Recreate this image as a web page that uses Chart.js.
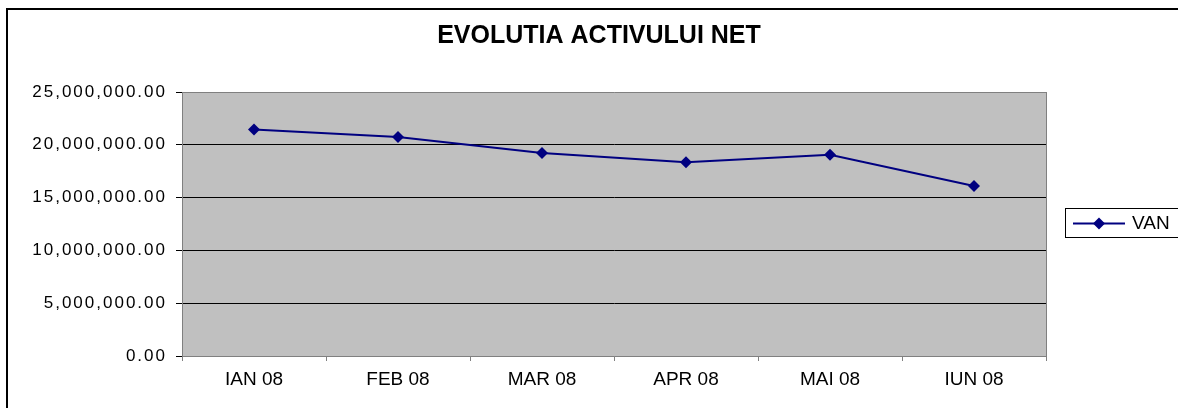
<!DOCTYPE html>
<html>
<head>
<meta charset="utf-8">
<script src="https://cdn.jsdelivr.net/npm/chart.js@4/dist/chart.umd.min.js"></script>
<style>
html,body{margin:0;padding:0;background:#fff;}
canvas{display:block;}
</style>
</head>
<body>
<canvas id="c" width="1178" height="408"></canvas>
<script>
const chartTitle = 'EVOLUTIA ACTIVULUI NET';
const seriesName = 'VAN';
const categories = ['IAN 08', 'FEB 08', 'MAR 08', 'APR 08', 'MAI 08', 'IUN 08'];
const vanValues = [21450000, 20740000, 19220000, 18340000, 19060000, 16100000];
const yMin = 0;
const yMax = 25000000;
const yStep = 5000000;

const NAVY = '#000080';
const FONT = '"Liberation Sans", Arial, sans-serif';

const decorPlugin = {
  id: 'decor',
  beforeDraw(chart) {
    const ctx = chart.ctx;
    const a = chart.chartArea;
    ctx.save();
    ctx.fillStyle = '#ffffff';
    ctx.fillRect(0, 0, chart.width, chart.height);
    ctx.fillStyle = '#C0C0C0';
    ctx.fillRect(a.left, a.top, a.right - a.left, a.bottom - a.top);
    ctx.restore();
  },
  beforeDatasetsDraw(chart) {
    const ctx = chart.ctx;
    const a = chart.chartArea;
    ctx.save();
    ctx.strokeStyle = '#808080';
    ctx.lineWidth = 1;
    ctx.beginPath();
    ctx.moveTo(Math.round(a.right) + 0.5, a.top);
    ctx.lineTo(Math.round(a.right) + 0.5, a.bottom);
    ctx.stroke();
    ctx.restore();
  },
  afterDraw(chart) {
    const ctx = chart.ctx;
    ctx.save();
    // outer chart border
    ctx.strokeStyle = '#000';
    ctx.lineWidth = 2;
    ctx.strokeRect(7, 9, 1200, 420);
    // title
    ctx.fillStyle = '#000';
    ctx.font = 'bold 25px ' + FONT;
    ctx.textAlign = 'center';
    ctx.textBaseline = 'middle';
    ctx.fillText(chartTitle, 599, 36);
    // legend
    ctx.lineWidth = 1;
    ctx.strokeStyle = '#000';
    ctx.strokeRect(1065.5, 208.5, 140, 29);
    ctx.strokeStyle = NAVY;
    ctx.lineWidth = 2;
    ctx.beginPath();
    ctx.moveTo(1073, 223.5);
    ctx.lineTo(1125, 223.5);
    ctx.stroke();
    ctx.fillStyle = NAVY;
    ctx.beginPath();
    ctx.moveTo(1099, 217.5);
    ctx.lineTo(1105, 223.5);
    ctx.lineTo(1099, 229.5);
    ctx.lineTo(1093, 223.5);
    ctx.closePath();
    ctx.fill();
    ctx.fillStyle = '#000';
    ctx.font = '19px ' + FONT;
    ctx.textAlign = 'left';
    ctx.fillText(seriesName, 1132, 224);
    ctx.restore();
  },
  afterLayout(chart) {
    const s = chart.scales.y;
    if (s && !s._lsPatched) {
      const orig = s.drawLabels.bind(s);
      s.drawLabels = function (area) {
        const ctx = chart.ctx;
        ctx.save();
        try { ctx.letterSpacing = '2px'; } catch (e) {}
        orig(area);
        ctx.restore();
      };
      s._lsPatched = true;
    }
  }
};

new Chart(document.getElementById('c'), {
  type: 'line',
  data: {
    labels: categories,
    datasets: [{
      label: seriesName,
      data: vanValues,
      borderColor: NAVY,
      backgroundColor: NAVY,
      borderWidth: 2,
      pointStyle: 'rectRot',
      pointRadius: 6,
      pointBorderWidth: 0,
      pointBackgroundColor: NAVY,
      tension: 0,
      fill: false
    }]
  },
  options: {
    responsive: false,
    animation: false,
    events: [],
    layout: { padding: { left: 0, top: 92, right: 132, bottom: 0 } },
    plugins: {
      legend: { display: false },
      title: { display: false },
      tooltip: { enabled: false }
    },
    scales: {
      x: {
        type: 'category',
        offset: true,
        grid: {
          offset: true,
          drawOnChartArea: false,
          drawTicks: true,
          tickLength: 5,
          color: '#808080'
        },
        border: { color: '#808080', width: 1 },
        ticks: {
          color: '#000',
          font: { family: FONT, size: 19 },
          padding: 7,
          maxRotation: 0,
          autoSkip: false
        },
        afterFit(scale) { scale.height = 52; }
      },
      y: {
        min: yMin,
        max: yMax,
        grid: {
          color: (c) => (c.tick && (c.tick.value === yMin || c.tick.value === yMax)) ? '#808080' : '#000000',
          tickColor: '#000',
          tickLength: 6,
          lineWidth: 1
        },
        border: { color: '#808080', width: 1 },
        ticks: {
          stepSize: yStep,
          color: '#000',
          font: { family: FONT, size: 17 },
          padding: 9,
          callback: (v) => Number(v).toLocaleString('en-US', { minimumFractionDigits: 2, maximumFractionDigits: 2 })
        },
        afterFit(scale) { scale.width = 182; }
      }
    }
  },
  plugins: [decorPlugin]
});
</script>
</body>
</html>
